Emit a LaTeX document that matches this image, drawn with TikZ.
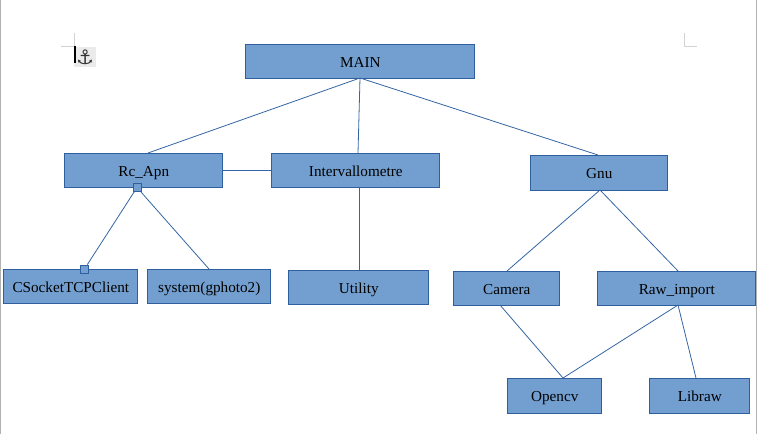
\documentclass[tikz,border=0pt]{standalone}
\usepackage{fontspec}
\setmainfont{Liberation Serif}
\newfontfamily\symbfont{DejaVu Sans}
\definecolor{boxfill}{HTML}{729FCF}
\definecolor{boxline}{HTML}{2F5F9E}
\definecolor{linkline}{HTML}{3465A4}
\definecolor{markgray}{HTML}{D2D2D2}
\tikzset{
  block/.style={draw=boxline, fill=boxfill, line width=0.8pt, inner sep=0pt, text height=12pt, text depth=0pt, font=\fontsize{15.2}{17}\selectfont, text=black},
  link/.style={draw=linkline, line width=0.8pt},
  handle/.style={draw=boxline, fill=boxfill, line width=0.8pt, inner sep=0pt, minimum size=8pt},
  cropmark/.style={draw=markgray, line width=1pt}
}
\newcommand{\blockat}[6]{% name, x0, y0, x1, y1, text
  \node[block, minimum width=#4pt-#2pt, minimum height=#5pt-#3pt] (#1) at ({(#2+#4)/2-0.2},{(#3+#5)/2}) {#6};
}
\begin{document}
\begin{tikzpicture}[x=1pt, y=-1pt]
\useasboundingbox (0,0) rectangle (757,434);
% window edges
\draw[draw=black!30, line width=1pt] (0.5,0) -- (0.5,434);
\draw[draw=black!30, line width=1pt] (756.5,0) -- (756.5,434);

% page corners and anchor
\draw[cropmark] (61,46) -- (74,46) -- (74,33);
\draw[cropmark] (684,33) -- (684,46) -- (697,46);
\node[fill=black!8, minimum width=22pt, minimum height=20pt, inner sep=0pt, font=\symbfont\fontsize{20}{20}\selectfont, text=black!80] (anchormark) at (85,57) {⚓};
\draw[draw=black, line width=2pt] (75,46) -- (75,63);

% blocks
\blockat{main}{246}{44}{475}{78}{MAIN}
\blockat{rcapn}{65}{153}{223}{187}{Rc\_Apn}
\blockat{interval}{272}{153}{440}{187}{Intervallometre}
\blockat{gnu}{531}{155}{668}{190}{Gnu}
\blockat{csocket}{4}{269}{138}{303}{CSocketTCPClient}
\blockat{system}{148}{269}{271}{303}{system(gphoto2)}
\blockat{utility}{289}{270}{429}{304}{Utility}
\blockat{camera}{454}{271}{560}{305}{Camera}
\blockat{rawimport}{598}{271}{756}{305}{Raw\_import}
\blockat{opencv}{508}{378}{602}{413}{Opencv}
\blockat{libraw}{650}{378}{750}{413}{Libraw}

% free ends on the block edges
\coordinate (mainout) at (360,78);
\coordinate (rcin) at (148,153);
\coordinate (intin) at (358,153);
\coordinate (gnuin) at (598,155);
\coordinate (intout) at (359,187);
\coordinate (utilin) at (359,270);
\coordinate (gnuout) at (600,190);
\coordinate (camin) at (507,271);
\coordinate (rawin) at (678,271);
\coordinate (camout) at (500,305);
\coordinate (rawout) at (678,305);
\coordinate (ocvin) at (563,378);
\coordinate (librawin) at (696,378);
\coordinate (sysin) at (209,269);

% connectors
\draw[link] (mainout) -- (rcin);
\draw[link] (mainout) -- (intin);
\draw[link] (mainout) -- (gnuin);
\draw[link] (rcapn.east) -- (interval.west);
\draw[link] (intout) -- (utilin);
\draw[link] (gnuout) -- (camin);
\draw[link] (gnuout) -- (rawin);
\draw[link] (camout) -- (ocvin);
\draw[link] (rawout) -- (ocvin);
\draw[link] (rawout) -- (librawin);

% selection handles
\node[handle] (rcport) at (137,187.5) {};
\node[handle] (csport) at (84.5,269) {};
\draw[link] (rcport) -- (csport);
\draw[link] (rcport) -- (sysin);
\end{tikzpicture}
\end{document}
